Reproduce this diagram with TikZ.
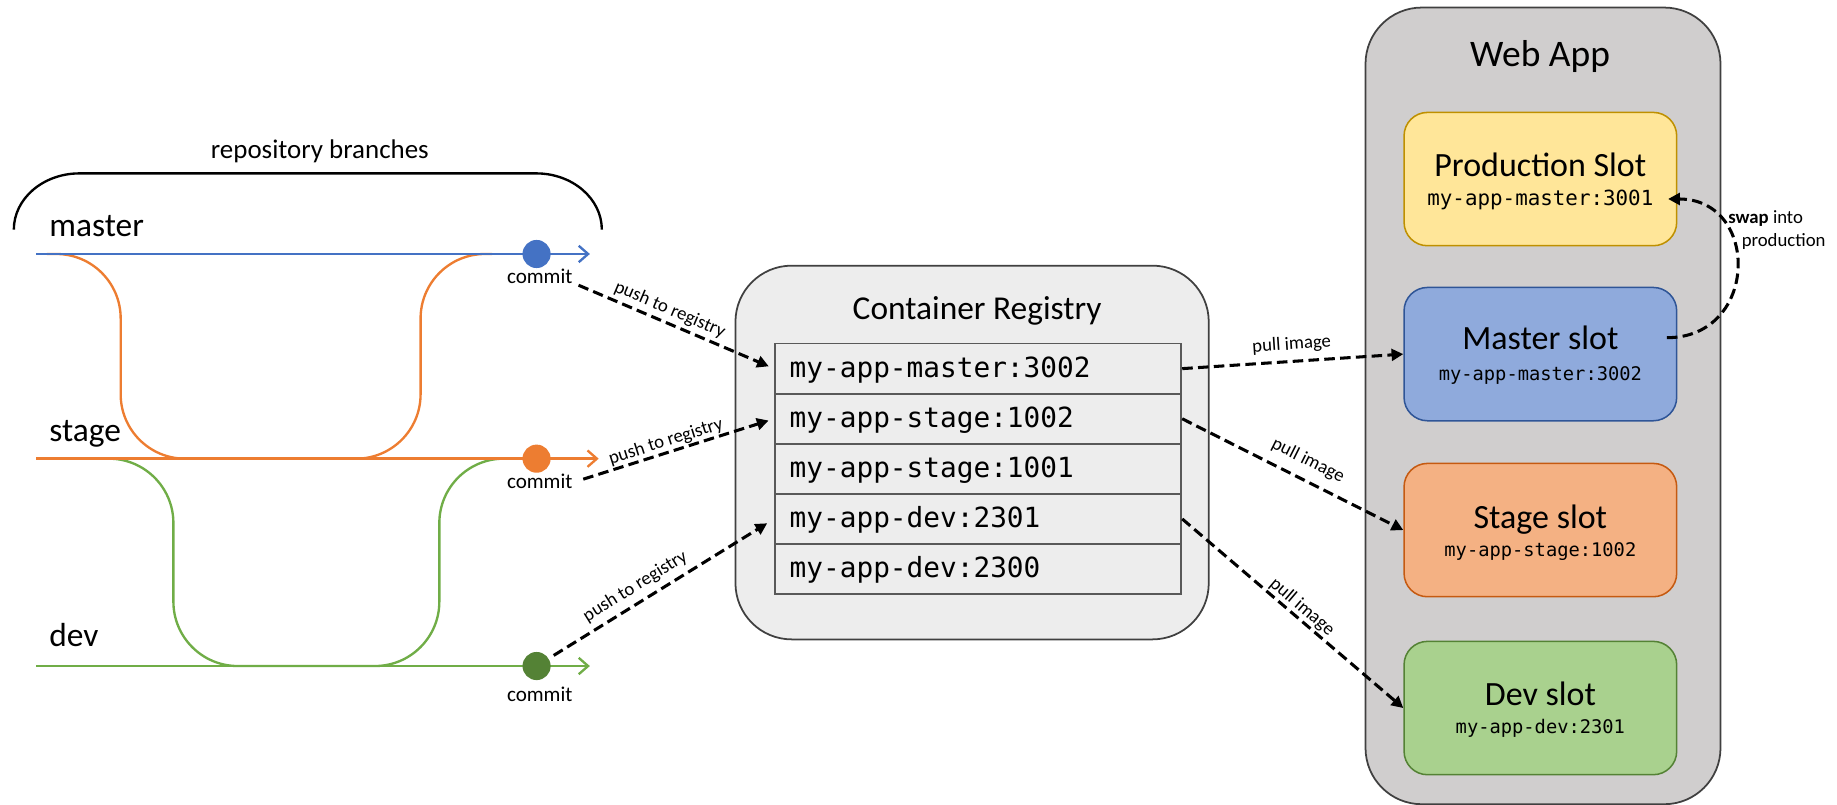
\documentclass[tikz,border=0pt]{standalone}
\usepackage{fontspec}
\setmainfont{Carlito}
\newfontfamily\monof{DejaVu Sans Mono}
\usetikzlibrary{arrows.meta,calc}
\newcommand\fsz[1]{\fontsize{#1}{#1}\selectfont}
\definecolor{cBlue}{HTML}{4472C4}
\definecolor{cOrange}{HTML}{ED7D31}
\definecolor{cGreen}{HTML}{70AD47}
\definecolor{cDGreen}{HTML}{548235}
\definecolor{regFill}{HTML}{EDEDED}
\definecolor{webFill}{HTML}{D0CECE}
\definecolor{boxLine}{HTML}{404040}
\definecolor{rowLine}{HTML}{595959}
\definecolor{prodFill}{HTML}{FFE699}
\definecolor{prodLine}{HTML}{BF9000}
\definecolor{mastFill}{HTML}{8FAADC}
\definecolor{mastLine}{HTML}{2F5597}
\definecolor{stgFill}{HTML}{F4B183}
\definecolor{stgLine}{HTML}{C55A11}
\definecolor{devFill}{HTML}{A9D18E}
\definecolor{devLine}{HTML}{548235}
\begin{document}
\begin{tikzpicture}[x=1pt,y=-1pt,
  branch/.style={line width=2pt},
  brtip/.style={-{Straight Barb[length=8pt,width=14pt]}},
  cdot/.style={circle,inner sep=0pt,minimum size=24pt},
  commitlbl/.style={inner sep=0pt,font={\fsz{18}}},
  brname/.style={inner sep=0pt,anchor=base west,font={\fsz{28.5}}},
  dasharrow/.style={line width=2.6pt,dash pattern=on 9pt off 4.5pt,-{Triangle[length=10pt,width=10pt]}},
  edgelbl/.style={font={\fsz{16}},inner sep=0pt,sloped},
  rowbox/.style={draw=rowLine,fill=regFill,line width=1.5pt,anchor=north west,minimum height=42.8pt,
    text width=321.8pt,inner xsep=12.5pt,inner ysep=0pt,align=left,text height=19.6pt,text depth=4.4pt,
    font={\monof\fsz{23.7}}},
  bigbox/.style={line width=1.5pt,draw=boxLine,anchor=north west,inner sep=0pt,rounded corners=48pt},
  slotbox/.style={rounded corners=20pt,line width=1.3pt,minimum width=232.7pt,minimum height=113.8pt,anchor=north west,inner sep=0pt},
  slottitle/.style={anchor=base,inner sep=0pt,font={\fsz{29}}},
  slotimg/.style={anchor=base,inner sep=0pt,font={\monof\fsz{16}}},
  plainlbl/.style={inner sep=0pt,font={\fsz{16}}}
]
\useasboundingbox (0,0) rectangle (1568,687);

% ---------- repository branches ----------
\draw[line width=2pt] (11.8,196) .. controls (11.8,169.5) and (36.9,148) .. (67.8,148)
  -- (457.7,148) .. controls (488.6,148) and (513.7,169.5) .. (513.7,196);
\node[anchor=base,inner sep=0pt,font={\fsz{23}}] (repo) at (273,135) {repository branches};

\node[brname] (nmaster) at (42,202) {master};
\node[brname] (nstage) at (42,377) {stage};
\node[brname] (ndev) at (42,552) {dev};

% merge loops
\draw[branch,cGreen,rounded corners=55pt] (85,391.5) -- (148,391.5) -- (148,568.5) -- (375,568.5) -- (375,391.5) -- (434,391.5);
\draw[branch,cOrange,rounded corners=55pt] (40,216.8) -- (103,216.8) -- (103,391.5) -- (359,391.5) -- (359,216.8) -- (420,216.8);

% branch lines
\coordinate (d0) at (31,568.5);
\coordinate (d1) at (503.5,568.5);
\coordinate (s0) at (31,391.5);
\coordinate (s1) at (511,391.5);
\coordinate (m0) at (31,216.8);
\coordinate (m1) at (503.5,216.8);
\draw[branch,cGreen,brtip] (d0) -- (d1);
\draw[branch,cOrange,brtip] (s0) -- (s1);
\draw[branch,cBlue,brtip] (m0) -- (m1);

\node[cdot,fill=cBlue] (dm) at (458,216.8) {};
\node[cdot,fill=cOrange] (ds) at (458,391.5) {};
\node[cdot,fill=cDGreen] (dd) at (458,568.5) {};

\node[commitlbl] (cm) at (460.7,236) {commit};
\node[commitlbl] (cs) at (460.7,411) {commit};
\node[commitlbl] (cd) at (460.7,593) {commit};

% ---------- container registry ----------
\node[bigbox,fill=regFill,minimum width=404pt,minimum height=319pt] (reg) at (627,226) {};
\node[anchor=base,inner sep=0pt,font={\fsz{28.5}}] (regt) at (834,273) {Container Registry};

\node[rowbox] (r1) at (660.8,292.5) {my-app-master:3002};
\node[rowbox] (r2) at (660.8,335.3) {my-app-stage:1002};
\node[rowbox] (r3) at (660.8,378.1) {my-app-stage:1001};
\node[rowbox] (r4) at (660.8,420.8) {my-app-dev:2301};
\node[rowbox] (r5) at (660.8,463.6) {my-app-dev:2300};

% ---------- web app ----------
\node[bigbox,fill=webFill,minimum width=303pt,minimum height=680pt] (web) at (1164.8,5.7) {};
\node[anchor=base,inner sep=0pt,font={\fsz{32}}] (webt) at (1314.5,56.9) {Web App};

\node[slotbox,draw=prodLine,fill=prodFill] (prod) at (1197.8,95.3) {};
\node[slotbox,draw=mastLine,fill=mastFill] (mslot) at (1197.8,244.7) {};
\node[slotbox,draw=stgLine,fill=stgFill] (sslot) at (1197.8,394.9) {};
\node[slotbox,draw=devLine,fill=devFill] (dslot) at (1197.8,546.8) {};

\node[slottitle] (prodt) at ($(prod.north)+(0,55)$) {Production Slot};
\node[slotimg,font={\monof\fsz{17.8}}] (prodi) at ($(prod.north)+(0,80)$) {my-app-master:3001};
\node[slottitle] (mslott) at ($(mslot.north)+(0,54)$) {Master slot};
\node[slotimg] (msloti) at ($(mslot.north)+(0,80)$) {my-app-master:3002};
\node[slottitle] (sslott) at ($(sslot.north)+(0,56)$) {Stage slot};
\node[slotimg] (ssloti) at ($(sslot.north)+(0,80)$) {my-app-stage:1002};
\node[slottitle] (dslott) at ($(dslot.north)+(0,55)$) {Dev slot};
\node[slotimg] (dsloti) at ($(dslot.north)+(0,79)$) {my-app-dev:2301};

% ---------- push arrows ----------
\draw[dasharrow,shorten >=5pt] ($(cm.south east)+(5,1)$) -- (r1.west)
  node[edgelbl,pos=0.44,above=3pt] (lp1) {push to registry};
\draw[dasharrow,shorten >=5pt] ($(cs.east)+(9,-2)$) -- (r2.west)
  node[edgelbl,pos=0.45,above=1pt] (lp2) {push to registry};
\draw[dasharrow,shorten <=5pt,shorten >=7pt] (dd) -- (r4.west)
  node[edgelbl,pos=0.42,above=5pt] (lp3) {push to registry};

% ---------- pull arrows ----------
\draw[dasharrow] (r1.east) -- (mslot.west)
  node[edgelbl,pos=0.5,above=6pt] (lq1) {pull image};
\draw[dasharrow] (r2.east) -- (sslot.west)
  node[edgelbl,pos=0.53,above=8pt] (lq2) {pull image};
\draw[dasharrow] (r4.east) -- (dslot.west)
  node[edgelbl,pos=0.51,above=1pt] (lq3) {pull image};

% ---------- swap ----------
\coordinate (sw0) at ($(mslot.east)+(-9,-14)$);
\coordinate (sw1) at ($(prod.east)+(-8,17)$);
\draw[dasharrow] (sw0) to[out=0,in=0,looseness=1.7] (sw1);
\node[plainlbl,anchor=base west] (swA) at (1475,190.5) {\textbf{swap} into};
\node[plainlbl,anchor=base west] (swB) at (1486.5,210.3) {production};
\end{tikzpicture}
\end{document}
